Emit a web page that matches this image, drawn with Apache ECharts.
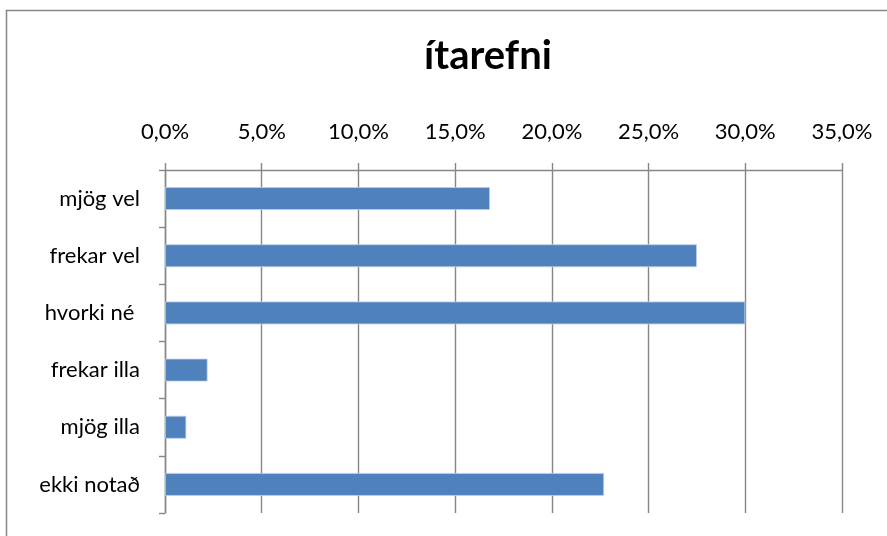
<!DOCTYPE html>
<html>
<head>
<meta charset="utf-8">
<script src="https://cdn.jsdelivr.net/npm/echarts@6/dist/echarts.min.js"></script>
<style>
  html, body { margin: 0; padding: 0; background: #fff; }
  #chart { width: 887px; height: 536px; }
</style>
</head>
<body>
<div id="chart"></div>
<script>
// Survey answers (share of respondents, %)
const categories = ['mjög vel', 'frekar vel', 'hvorki né ', 'frekar illa', 'mjög illa', 'ekki notað'];
const shares = [16.8, 27.5, 30.0, 2.2, 1.1, 22.7];
const chartTitle = 'ítarefni';

const FONT = 'Lato, "Liberation Sans", sans-serif';
const GRAY = '#868686';

const chart = echarts.init(document.getElementById('chart'), null, { renderer: 'canvas' });

chart.setOption({
  animation: false,
  backgroundColor: '#ffffff',
  title: {
    text: chartTitle,
    left: 483,
    top: 31,
    textAlign: 'center',
    textStyle: { fontFamily: FONT, fontSize: 40, fontWeight: 'bold', color: '#000' }
  },
  graphic: [{
    type: 'rect',
    shape: { x: 6.5, y: 10.5, width: 950, height: 700 },
    style: { fill: 'none', stroke: GRAY, lineWidth: 1.5 },
    silent: true
  }],
  grid: { left: 165, right: 45, top: 170, bottom: 23, containLabel: false },
  xAxis: {
    type: 'value',
    position: 'top',
    min: 0,
    max: 35,
    interval: 5,
    axisLine: { show: true, lineStyle: { color: GRAY, width: 1.4 } },
    axisTick: { show: true, length: 7, lineStyle: { color: GRAY, width: 1.4 } },
    splitLine: { show: true, lineStyle: { color: GRAY, width: 1.4 } },
    axisLabel: {
      margin: 27,
      fontFamily: FONT,
      fontSize: 22,
      color: '#000',
      formatter: v => v.toFixed(1).replace('.', ',') + '%'
    }
  },
  yAxis: {
    type: 'category',
    inverse: true,
    data: categories,
    axisLine: { show: true, lineStyle: { color: GRAY, width: 1.4 } },
    axisTick: { show: true, length: 6, lineStyle: { color: GRAY, width: 1.4 } },
    axisLabel: { margin: 25, fontFamily: FONT, fontSize: 22, color: '#000' }
  },
  series: [{
    type: 'bar',
    data: shares,
    barWidth: '40%',
    itemStyle: { color: '#4F81BD', borderColor: '#BCD0EA', borderWidth: 0.8 }
  }]
});
</script>
</body>
</html>
